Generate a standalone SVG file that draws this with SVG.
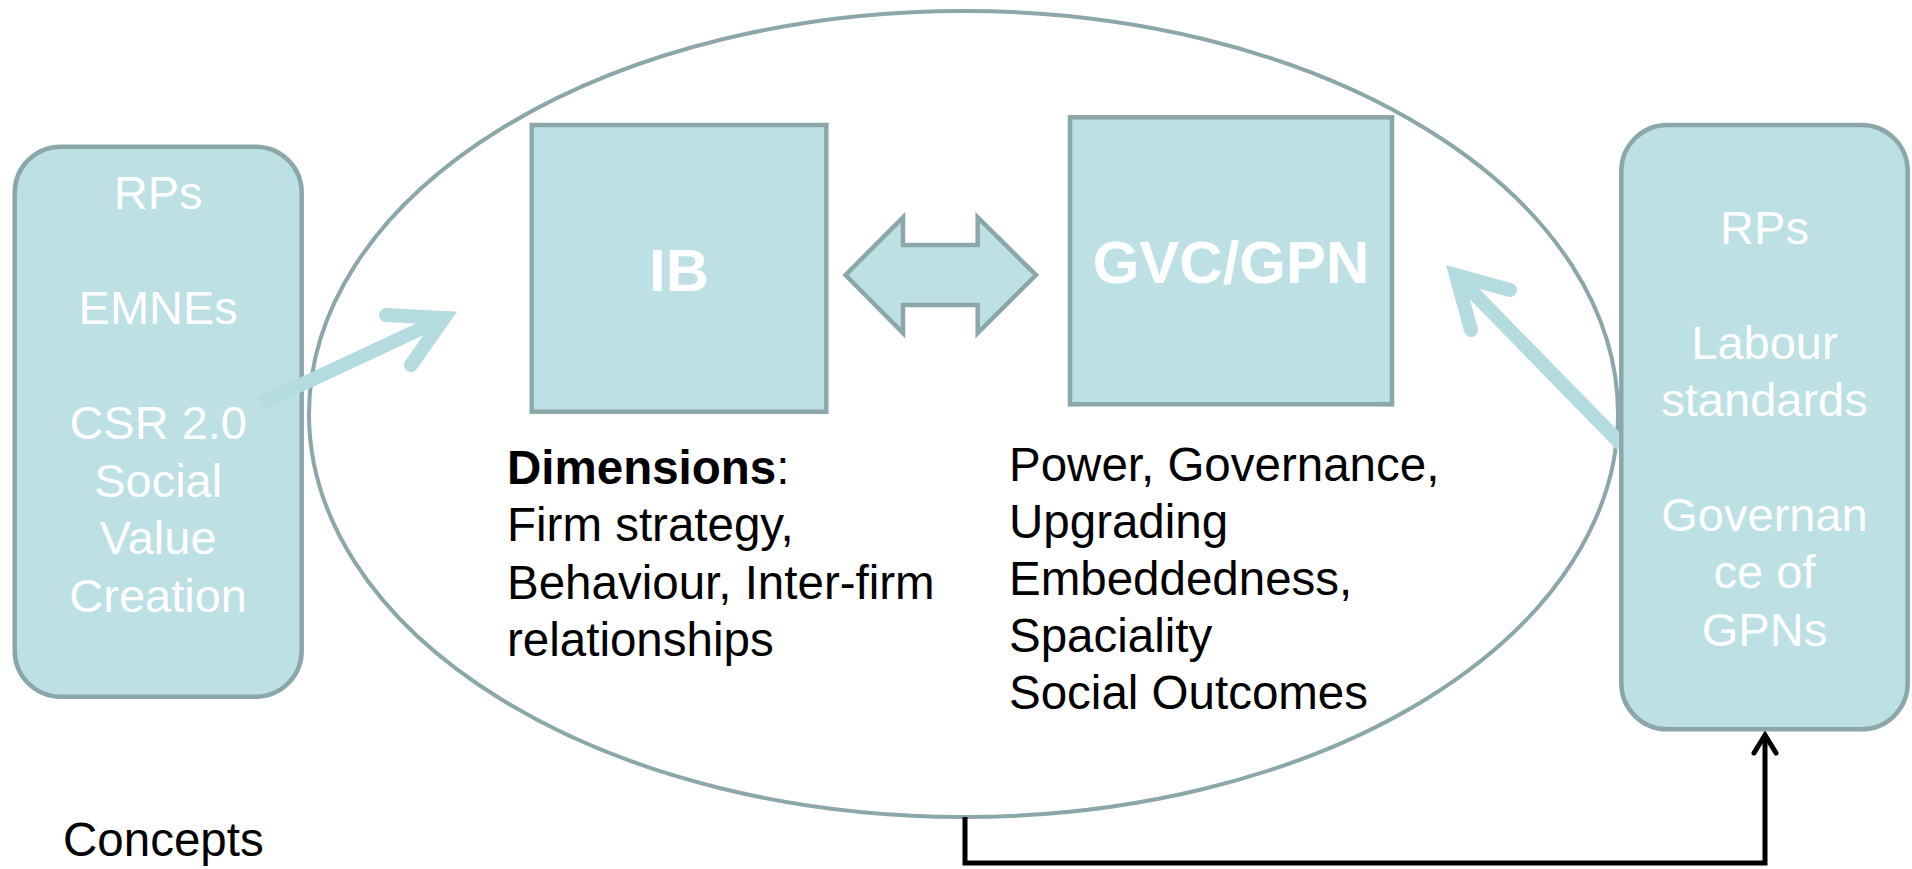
<svg xmlns="http://www.w3.org/2000/svg" width="1912" height="869" viewBox="0 0 1912 869">
  <defs>
    <style>
      .box { fill: #BCE0E3; stroke: #8BA7A9; stroke-width: 4.5; }
      .wt { fill: #FFFFFF; font-family: "Liberation Sans", Arial, sans-serif; font-size: 47px; text-anchor: middle; }
      .wb { fill: #FFFFFF; font-family: "Liberation Sans", Arial, sans-serif; font-size: 60px; font-weight: bold; text-anchor: middle; }
      .bt { fill: #000000; font-family: "Liberation Sans", Arial, sans-serif; font-size: 47.5px; }
      .lite { fill: none; stroke: #B4DBDF; stroke-width: 14; }
      .blk { fill: none; stroke: #000000; stroke-width: 5; }
    </style>
  </defs>
  <rect width="1912" height="869" fill="#FFFFFF"/>

  <g id="scope">
    <ellipse cx="963.5" cy="414" rx="654.5" ry="403" fill="none" stroke="#8BA7A9" stroke-width="4"/>
  </g>

  <g id="node-left">
    <rect class="box" x="14.7" y="146.7" width="287" height="550" rx="46" ry="46"/>
    <text class="wt" x="158.2" y="209.3">RPs</text>
    <text class="wt" x="158.2" y="324.3">EMNEs</text>
    <text class="wt" x="158.2" y="439.3">CSR 2.0</text>
    <text class="wt" x="158.2" y="496.8">Social</text>
    <text class="wt" x="158.2" y="554.3">Value</text>
    <text class="wt" x="158.2" y="611.8">Creation</text>
  </g>

  <g id="node-ib">
    <rect class="box" x="531.7" y="125" width="294.6" height="286.7"/>
    <text class="wb" x="679" y="290.5">IB</text>
  </g>

  <g id="node-gvc">
    <rect class="box" x="1070" y="117.3" width="322" height="287"/>
    <text class="wb" x="1231" y="283">GVC/GPN</text>
  </g>

  <g id="connectors">
    <polygon class="box" stroke-linejoin="miter" points="845.5,275 903,217.5 903,245 977.7,245 977.7,217.5 1036,275 977.7,333 977.7,305 903,305 903,333"/>
    <line class="lite" x1="262" y1="403" x2="444" y2="318" stroke-linecap="butt"/>
    <polyline class="lite" points="386,315 444,318 411,365" stroke-linecap="round" stroke-linejoin="miter" stroke-miterlimit="10"/>
    <line class="lite" x1="1622" y1="445" x2="1456" y2="275" stroke-linecap="butt"/>
    <polyline class="lite" points="1510,290 1456,275 1471,330" stroke-linecap="round" stroke-linejoin="miter" stroke-miterlimit="10"/>
    <polyline class="blk" points="965,817 965,863 1765,863 1765,736" stroke-linejoin="miter"/>
    <polyline class="blk" points="1754,753 1765,735 1776,753" stroke-linecap="round" stroke-linejoin="miter"/>
  </g>

  <g id="node-right">
    <rect class="box" x="1621.3" y="125" width="286.4" height="604.3" rx="46" ry="46"/>
    <text class="wt" x="1764.5" y="244.3">RPs</text>
    <text class="wt" x="1764.5" y="358.6">Labour</text>
    <text class="wt" x="1764.5" y="415.9">standards</text>
    <text class="wt" x="1764.5" y="530.6">Governan</text>
    <text class="wt" x="1764.5" y="588">ce of</text>
    <text class="wt" x="1764.5" y="645.5">GPNs</text>
  </g>

  <g id="text-ib-dimensions">
    <text class="bt" x="507" y="484"><tspan font-weight="bold">Dimensions</tspan>:</text>
    <text class="bt" x="507" y="541.3">Firm strategy,</text>
    <text class="bt" x="507" y="598.6">Behaviour, Inter-firm</text>
    <text class="bt" x="507" y="655.9">relationships</text>
  </g>

  <g id="text-gvc-dimensions">
    <text class="bt" x="1009" y="481">Power, Governance,</text>
    <text class="bt" x="1009" y="538">Upgrading</text>
    <text class="bt" x="1009" y="595">Embeddedness,</text>
    <text class="bt" x="1009" y="652">Spaciality</text>
    <text class="bt" x="1009" y="709">Social Outcomes</text>
  </g>

  <g id="label-concepts">
    <text class="bt" x="63" y="855.7">Concepts</text>
  </g>
</svg>
